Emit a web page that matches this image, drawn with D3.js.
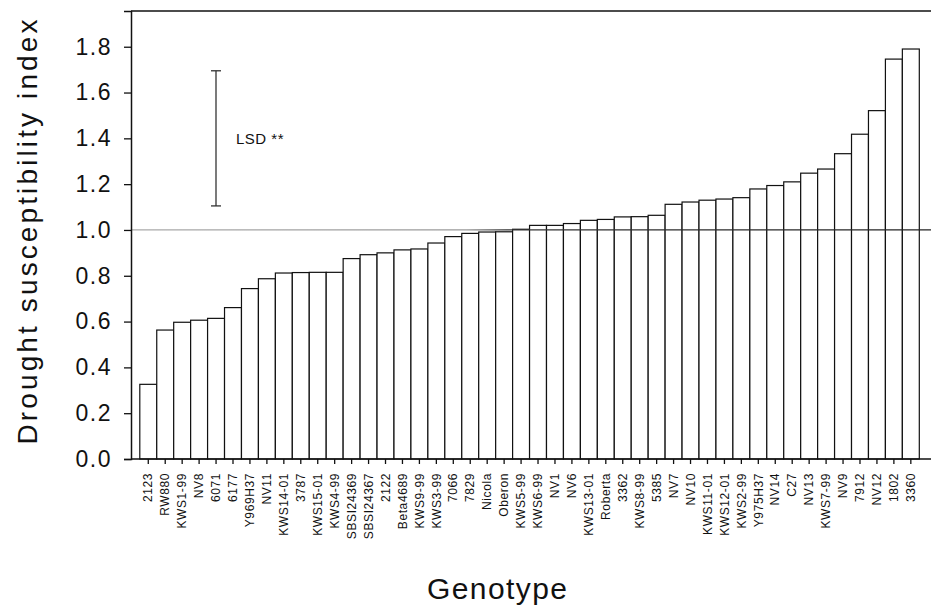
<!DOCTYPE html>
<html>
<head>
<meta charset="utf-8">
<script src="https://cdn.jsdelivr.net/npm/d3@7"></script>
<style>
    body { margin: 0; background: #fff; }
    svg { display: block; font-family: "Liberation Sans", Arial, sans-serif; }
</style>
</head>
<body>
<svg id="chart" width="931" height="605"></svg>
<script>
var genotypes = ['2123', 'RW880', 'KWS1-99', 'NV8', '6071', '6177', 'Y969H37', 'NV11', 'KWS14-01', '3787',
    'KWS15-01', 'KWS4-99', 'SBSI24369', 'SBSI24367', '2122', 'Beta4689', 'KWS9-99', 'KWS3-99', '7066', '7829',
    'Nicola', 'Oberon', 'KWS5-99', 'KWS6-99', 'NV1', 'NV6', 'KWS13-01', 'Roberta', '3362', 'KWS8-99',
    '5385', 'NV7', 'NV10', 'KWS11-01', 'KWS12-01', 'KWS2-99', 'Y975H37', 'NV14', 'C27', 'NV13',
    'KWS7-99', 'NV9', '7912', 'NV12', '1802', '3360'];

var dsi = [0.326, 0.563, 0.597, 0.606, 0.614, 0.661, 0.744, 0.787, 0.812, 0.814,
    0.815, 0.815, 0.875, 0.892, 0.900, 0.913, 0.917, 0.943, 0.971, 0.985,
    0.991, 0.992, 1.003, 1.020, 1.020, 1.028, 1.042, 1.046, 1.057, 1.058,
    1.064, 1.112, 1.122, 1.130, 1.135, 1.141, 1.179, 1.194, 1.210, 1.248,
    1.266, 1.333, 1.418, 1.521, 1.746, 1.790];

var yTicks = [0, 0.2, 0.4, 0.6, 0.8, 1.0, 1.2, 1.4, 1.6, 1.8];
var refValue = 1.0;
var lsd = [1.105, 1.695];

var svg = d3.select('#chart');

var xScale = d3.scaleBand()
    .domain(genotypes)
    .range([139.8, 919.3])
    .padding(0);

var yScale = d3.scaleLinear()
    .domain([0, 1.956])
    .range([459, 11]);

var left = 131, right = 931;

// bars
svg.append('g')
    .selectAll('rect')
    .data(genotypes)
    .enter()
    .append('rect')
    .attr('x', d => xScale(d))
    .attr('y', (d, i) => yScale(dsi[i]))
    .attr('width', xScale.bandwidth())
    .attr('height', (d, i) => yScale(0) - yScale(dsi[i]))
    .attr('fill', '#fff')
    .attr('stroke', '#111')
    .attr('stroke-width', 1.2);

// reference line at 1.0, faint on the left like the scan
var grad = svg.append('defs').append('linearGradient')
    .attr('id', 'refgrad')
    .attr('gradientUnits', 'userSpaceOnUse')
    .attr('x1', left).attr('x2', right).attr('y1', 0).attr('y2', 0);
grad.append('stop').attr('offset', '0').attr('stop-color', '#aaa');
grad.append('stop').attr('offset', '0.42').attr('stop-color', '#999');
grad.append('stop').attr('offset', '0.47').attr('stop-color', '#333');
grad.append('stop').attr('offset', '1').attr('stop-color', '#222');

svg.append('line')
    .attr('x1', left).attr('x2', right)
    .attr('y1', yScale(refValue)).attr('y2', yScale(refValue))
    .attr('stroke', 'url(#refgrad)')
    .attr('stroke-width', 1.2);

// frame: top line + bottom line
svg.append('line')
    .attr('x1', left).attr('x2', right)
    .attr('y1', yScale.range()[1]).attr('y2', yScale.range()[1])
    .attr('stroke', '#111').attr('stroke-width', 1.5);
svg.append('line')
    .attr('x1', left).attr('x2', right)
    .attr('y1', yScale(0)).attr('y2', yScale(0))
    .attr('stroke', '#111').attr('stroke-width', 1.5);

// y axis
var yAxis = svg.append('g')
    .attr('transform', `translate(${left},0)`)
    .call(d3.axisLeft(yScale).tickValues(yTicks).tickFormat(d3.format('.1f')).tickSize(7).tickPadding(12));
yAxis.select('.domain').attr('stroke', '#111').attr('stroke-width', 1.5);
yAxis.selectAll('.tick line').attr('stroke', '#111').attr('stroke-width', 1.3);
yAxis.selectAll('.tick text')
    .attr('fill', '#111')
    .style('font-size', '23px')
    .style('letter-spacing', '1.5px')
    .attr('font-family', null);

// x axis
var xAxis = svg.append('g')
    .attr('transform', `translate(0,${yScale(0)})`)
    .call(d3.axisBottom(xScale).tickSize(5).tickSizeOuter(0));
xAxis.select('.domain').remove();
xAxis.selectAll('.tick line').attr('stroke', '#111').attr('stroke-width', 1.3);
xAxis.selectAll('.tick text')
    .attr('fill', '#111')
    .attr('transform', 'rotate(-90)')
    .attr('text-anchor', 'end')
    .attr('x', -14)
    .attr('y', 0)
    .attr('dy', '0.35em')
    .style('font-size', '12px')
    .style('letter-spacing', '0.6px');

// axis titles
svg.append('text')
    .attr('transform', `translate(${37},${232}) rotate(-90)`)
    .attr('text-anchor', 'middle')
    .attr('textLength', 425)
    .attr('lengthAdjust', 'spacing')
    .attr('fill', '#111')
    .style('font-size', '28px')
    .text('Drought susceptibility index');

svg.append('text')
    .attr('x', 497)
    .attr('y', 599)
    .attr('text-anchor', 'middle')
    .attr('textLength', 140)
    .attr('lengthAdjust', 'spacing')
    .attr('fill', '#111')
    .style('font-size', '30px')
    .text('Genotype');

// LSD bar
var lsdX = 216;
var lsdG = svg.append('g').attr('stroke', '#333').attr('stroke-width', 1.3);
lsdG.append('line')
    .attr('x1', lsdX).attr('x2', lsdX)
    .attr('y1', yScale(lsd[0])).attr('y2', yScale(lsd[1]));
lsd.forEach(v => {
    lsdG.append('line')
        .attr('x1', lsdX - 5).attr('x2', lsdX + 5)
        .attr('y1', yScale(v)).attr('y2', yScale(v));
});
svg.append('text')
    .attr('x', 236)
    .attr('y', yScale((lsd[0] + lsd[1]) / 2) + 6)
    .attr('fill', '#111')
    .style('font-size', '15px')
    .style('letter-spacing', '0.5px')
    .text('LSD **');
</script>
</body>
</html>
